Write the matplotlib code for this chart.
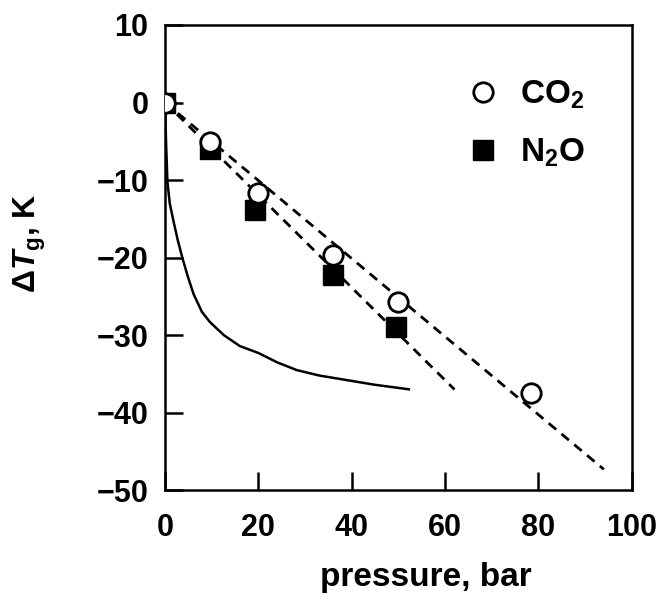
import matplotlib
matplotlib.use("Agg")
import matplotlib.pyplot as plt

# data
co2_p = [0, 9.6, 19.8, 36, 50, 78.5]
co2_dt = [0, -5.1, -11.7, -19.6, -25.7, -37.5]
n2o_p = [0, 9.6, 19.3, 36, 49.5]
n2o_dt = [0, -6.0, -13.8, -22.3, -29.0]

# dashed fits
co2_fit_p = [0, 94]
co2_fit_dt = [0, -47.3]
n2o_fit_p = [0, 62]
n2o_fit_dt = [0, -37.0]

# solid curve
curve_p = [0, 0.2, 0.5, 1.0, 1.8, 2.7, 3.6, 4.8, 6.1, 7.9, 9.6, 12.6, 16, 20, 24,
           28.2, 33, 39, 45, 52.5]
curve_dt = [0, -5, -10.2, -13, -15.3, -17.7, -19.8, -22.3, -24.7, -27, -28.3, -30,
            -31.4, -32.3, -33.5, -34.5, -35.2, -35.8, -36.4, -37]

xticks = [0, 20, 40, 60, 80, 100]
yticks = [10, 0, -10, -20, -30, -40, -50]

plt.rcParams['font.family'] = ['Liberation Sans', 'DejaVu Sans']
plt.rcParams['font.weight'] = 'bold'
plt.rcParams['mathtext.fontset'] = 'custom'
plt.rcParams['mathtext.rm'] = 'Liberation Sans:bold'
plt.rcParams['mathtext.it'] = 'Liberation Sans:italic:bold'
plt.rcParams['mathtext.bf'] = 'Liberation Sans:bold'

fig = plt.figure(figsize=(6.63, 5.95), dpi=100)
ax = fig.add_axes([0.249, 0.176, 0.704, 0.782])

ax.plot(curve_p, curve_dt, color='black', lw=1.8, solid_capstyle='butt')
ax.plot(co2_fit_p, co2_fit_dt, color='black', lw=2, dashes=(3.5, 2.5))
ax.plot(n2o_fit_p, n2o_fit_dt, color='black', lw=2, dashes=(3.5, 2.5))

ax.plot(n2o_p, n2o_dt, 's', color='black', ms=14, mec='black', label='N$_2$O',
        zorder=3)
ax.plot(co2_p, co2_dt, 'o', mfc='white', mec='black', mew=2, ms=14,
        label='CO$_2$', zorder=4)

ax.set_xlim(0, 100)
ax.set_ylim(-50, 10)
ax.set_xticks(xticks)
ax.set_yticks(yticks)

ax.tick_params(direction='in', length=13, width=1.8, labelsize=22,
               top=False, right=False)
ax.tick_params(axis='x', pad=16)
ax.tick_params(axis='y', pad=12)
ax.set_yticklabels(['\u2212' + str(-v) if v < 0 else str(v) for v in yticks])

for s in ax.spines.values():
    s.set_linewidth(1.8)

ax.set_xlabel('pressure, bar', fontsize=24, fontweight='bold')
ax.set_ylabel(r'$\Delta T_{\rm g}$, K', fontsize=23, fontweight='bold')
ax.xaxis.set_label_coords(0.559, -0.155)
ax.yaxis.set_label_coords(-0.25, 0.531)

handles, labels = ax.get_legend_handles_labels()
leg = ax.legend(handles[::-1], labels[::-1], loc='upper left',
                bbox_to_anchor=(0.596, 0.935), frameon=False, fontsize=24,
                handlelength=1.0, handletextpad=0.6, labelspacing=0.77,
                borderpad=0.2)

fig.savefig('out.png', dpi=100)
